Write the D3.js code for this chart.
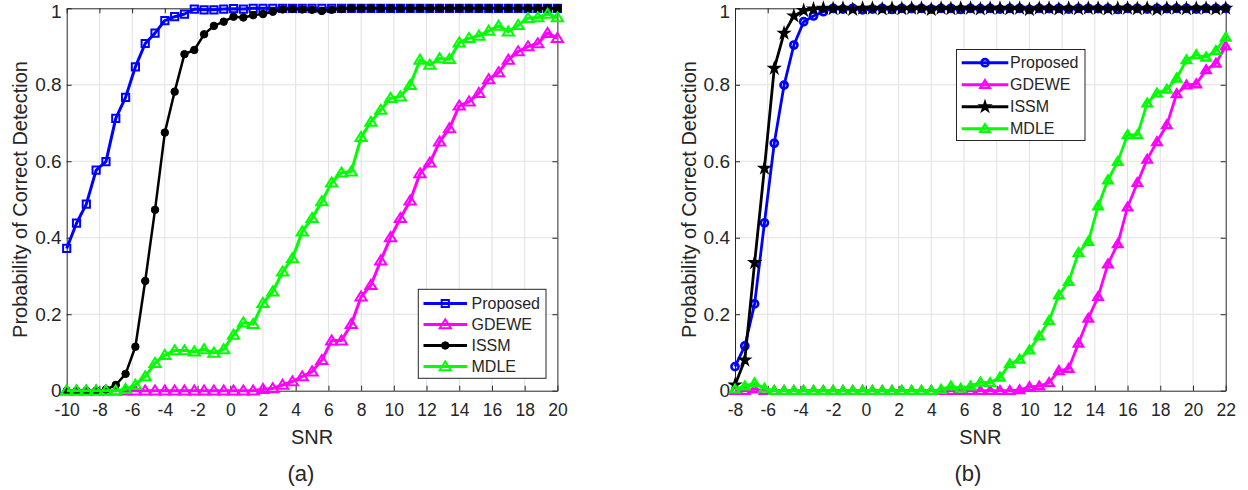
<!DOCTYPE html>
<html>
<head>
<meta charset="utf-8">
<script src="https://cdn.jsdelivr.net/npm/d3@7"></script>
<style>
  body { margin: 0; background: #fff; }
  svg { display: block; }
  text { font-family: "Liberation Sans", Arial, Helvetica, sans-serif; fill: #262626; }
</style>
</head>
<body>
<svg id="fig" width="1248" height="490"></svg>
<script>
// ---- panel (a): SNR grid and detection probabilities ----
const snrA = [-10, -9.4, -8.8, -8.2, -7.6, -7, -6.4, -5.8, -5.2, -4.6, -4, -3.4, -2.8, -2.2, -1.6, -1, -0.4,
  0.2, 0.8, 1.4, 2, 2.6, 3.2, 3.8, 4.4, 5, 5.6, 6.2, 6.8, 7.4, 8, 8.6, 9.2, 9.8, 10.4, 11, 11.6, 12.2,
  12.8, 13.4, 14, 14.6, 15.2, 15.8, 16.4, 17, 17.6, 18.2, 18.8, 19.4, 20];
const proposedA = [0.372, 0.438, 0.488, 0.577, 0.599, 0.712, 0.767, 0.847, 0.908, 0.935, 0.968, 0.978, 0.985,
  0.998, 0.996, 0.996, 0.998, 0.999, 0.998, 1, 1, 1, 1, 1, 1, 1, 1, 1, 1, 1, 1, 1, 1, 1, 1, 1, 1, 1, 1, 1,
  1, 1, 1, 1, 1, 1, 1, 1, 1, 1, 1];
const gdeweA = [0, 0, 0, 0, 0, 0, 0, 0, 0, 0, 0, 0, 0, 0, 0, 0, 0, 0, 0, 0, 0.004, 0.006, 0.015, 0.024, 0.037,
  0.050, 0.080, 0.131, 0.131, 0.174, 0.246, 0.276, 0.340, 0.401, 0.451, 0.497, 0.568, 0.596, 0.651, 0.686,
  0.745, 0.756, 0.778, 0.814, 0.832, 0.865, 0.887, 0.900, 0.908, 0.935, 0.922];
const issmA = [0, 0, 0, 0, 0.003, 0.015, 0.044, 0.115, 0.287, 0.473, 0.675, 0.782, 0.880, 0.891, 0.932, 0.954,
  0.965, 0.978, 0.976, 0.982, 0.985, 0.991, 0.997, 0.998, 0.997, 0.996, 0.993, 0.996, 0.998, 1, 1, 1, 1, 1,
  1, 1, 1, 1, 1, 1, 1, 1, 1, 1, 1, 1, 1, 1, 1, 1, 1];
const mdleA = [0, 0, 0, 0, 0, 0, 0.004, 0.015, 0.037, 0.072, 0.093, 0.105, 0.105, 0.102, 0.108, 0.099, 0.108,
  0.146, 0.178, 0.174, 0.229, 0.259, 0.311, 0.346, 0.416, 0.451, 0.495, 0.544, 0.570, 0.573, 0.663, 0.703,
  0.734, 0.765, 0.769, 0.799, 0.865, 0.852, 0.869, 0.867, 0.910, 0.922, 0.928, 0.941, 0.954, 0.939, 0.956,
  0.974, 0.976, 0.985, 0.976];
const xTicksA = [-10, -8, -6, -4, -2, 0, 2, 4, 6, 8, 10, 12, 14, 16, 18, 20];

// ---- panel (b) ----
const snrB = [-8, -7.4, -6.8, -6.2, -5.6, -5, -4.4, -3.8, -3.2, -2.6, -2, -1.4, -0.8, -0.2, 0.4, 1, 1.6, 2.2,
  2.8, 3.4, 4, 4.6, 5.2, 5.8, 6.4, 7, 7.6, 8.2, 8.8, 9.4, 10, 10.6, 11.2, 11.8, 12.4, 13, 13.6, 14.2, 14.8,
  15.4, 16, 16.6, 17.2, 17.8, 18.4, 19, 19.6, 20.2, 20.8, 21.4, 22];
const proposedB = [0.063, 0.117, 0.227, 0.439, 0.647, 0.799, 0.904, 0.965, 0.980, 0.991, 1, 0.998, 1, 0.996,
  0.998, 1, 0.997, 1, 0.999, 1, 0.998, 1, 1, 0.997, 1, 0.999, 1, 0.998, 1, 1, 0.997, 1, 0.999, 1, 0.998, 1,
  1, 0.999, 1, 0.997, 1, 1, 0.998, 1, 0.999, 1, 1, 0.998, 1, 1, 1];
const gdeweB = [0, 0, 0.004, 0, 0, 0, 0, 0, 0, 0, 0, 0, 0, 0, 0, 0, 0, 0, 0, 0, 0, 0, 0, 0, 0, 0, 0, 0, 0,
  0.002, 0.010, 0.012, 0.021, 0.052, 0.058, 0.124, 0.189, 0.246, 0.331, 0.384, 0.480, 0.544, 0.605, 0.651,
  0.695, 0.776, 0.799, 0.802, 0.839, 0.856, 0.901];
const issmB = [0.015, 0.080, 0.335, 0.582, 0.843, 0.935, 0.980, 0.994, 0.998, 1, 0.999, 1, 0.997, 1, 1, 0.998,
  1, 0.999, 1, 1, 0.997, 1, 0.999, 1, 1, 0.998, 1, 1, 0.999, 1, 0.997, 1, 1, 0.998, 1, 0.999, 1, 1, 0.998,
  1, 1, 0.999, 1, 0.997, 1, 1, 0.999, 1, 1, 0.998, 1];
const mdleB = [0.004, 0.012, 0.020, 0.006, 0, 0, 0, 0, 0, 0, 0, 0, 0, 0, 0, 0, 0, 0, 0, 0, 0, 0.003, 0.012,
  0.006, 0.012, 0.022, 0.021, 0.035, 0.070, 0.082, 0.106, 0.143, 0.183, 0.250, 0.285, 0.361, 0.390, 0.483,
  0.551, 0.599, 0.669, 0.669, 0.752, 0.778, 0.788, 0.817, 0.865, 0.878, 0.872, 0.889, 0.924];
const xTicksB = [-8, -6, -4, -2, 0, 2, 4, 6, 8, 10, 12, 14, 16, 18, 20, 22];

const yTicks = [0, 0.2, 0.4, 0.6, 0.8, 1];
const seriesNames = ["Proposed", "GDEWE", "ISSM", "MDLE"];
const seriesColors = ["#0000ff", "#ff00ff", "#000000", "#00ff00"];

// marker shapes (path strings centred on the data point)
const shapes = {
  square: "M-3.6,-3.6H3.6V3.6H-3.6Z",
  triangle: "M0,-5.2L5.6,3.8H-5.6Z",
  triangleSmall: "M0,-4.4L4.6,3.2H-4.6Z",
  circle: d3.symbol(d3.symbolCircle, 40)(),
  dot: d3.symbol(d3.symbolCircle, 44)(),
  star: d3.symbol(d3.symbolStar, 34)()
};

const panels = [
  {
    snr: snrA, values: [proposedA, gdeweA, issmA, mdleA], domain: [-10, 20], xTicks: xTicksA,
    left: 66.7, caption: "(a)", captionX: 301, yLabelX: 20,
    markers: [
      { d: shapes.square, fill: "none", sw: 2, lw: 3 },
      { d: shapes.triangle, fill: "none", sw: 2, lw: 3 },
      { d: shapes.dot, fill: "#000", sw: 1, lw: 2.5 },
      { d: shapes.triangle, fill: "none", sw: 2, lw: 3 }
    ],
    legend: { x: 418.3, y: 289.3, w: 127.7, h: 89, row0: 303.5, step: 21, lx0: 423.5, lx1: 467, tx: 471.5 }
  },
  {
    snr: snrB, values: [proposedB, gdeweB, issmB, mdleB], domain: [-8, 22], xTicks: xTicksB,
    left: 735, caption: "(b)", captionX: 968, yLabelX: 688.5,
    markers: [
      { d: shapes.circle, fill: "none", sw: 2.6, lw: 2.8 },
      { d: shapes.triangleSmall, fill: "none", sw: 2.4, lw: 2.8 },
      { d: shapes.star, fill: "#000", sw: 1.6, lw: 2.8 },
      { d: shapes.triangleSmall, fill: "none", sw: 2.4, lw: 2.8 }
    ],
    legend: { x: 956.5, y: 49.5, w: 128.5, h: 91, row0: 62.7, step: 22, lx0: 961.7, lx1: 1008.3, tx: 1010 }
  }
];

const svg = d3.select("#fig");
const plotW = 490.7, yBottom = 390.7, yTop = 8.3;

panels.forEach(p => {
  const x = d3.scaleLinear().domain(p.domain).range([p.left, p.left + plotW]);
  const y = d3.scaleLinear().domain([0, 1]).range([yBottom, yTop]);
  const g = svg.append("g");

  // grid
  const grid = g.append("g").attr("stroke", "#e1e1e1").attr("stroke-width", 1);
  grid.selectAll("line.gx").data(p.xTicks.slice(1, -1)).join("line")
    .attr("x1", d => x(d)).attr("x2", d => x(d)).attr("y1", yBottom).attr("y2", yTop);
  grid.selectAll("line.gy").data(yTicks.slice(1, -1)).join("line")
    .attr("y1", d => y(d)).attr("y2", d => y(d)).attr("x1", p.left).attr("x2", p.left + plotW);

  // axes with inward ticks on all four sides
  const fmt = d => String(d);
  const axB = g.append("g").attr("transform", `translate(0,${yBottom})`)
    .call(d3.axisBottom(x).tickValues(p.xTicks).tickFormat(fmt).tickSizeInner(-5).tickSizeOuter(0).tickPadding(13.3));
  const axL = g.append("g").attr("transform", `translate(${p.left},0)`)
    .call(d3.axisLeft(y).tickValues(yTicks).tickFormat(fmt).tickSizeInner(-5).tickSizeOuter(0).tickPadding(5));
  const axT = g.append("g").attr("transform", `translate(0,${yTop})`)
    .call(d3.axisTop(x).tickValues(p.xTicks).tickFormat("").tickSizeInner(-5).tickSizeOuter(0));
  const axR = g.append("g").attr("transform", `translate(${p.left + plotW},0)`)
    .call(d3.axisRight(y).tickValues(yTicks).tickFormat("").tickSizeInner(-5).tickSizeOuter(0));
  [axB, axL, axT, axR].forEach(a => {
    a.selectAll("path.domain").attr("stroke", "#262626").attr("stroke-width", 1);
    a.selectAll(".tick line").attr("stroke", "#262626").attr("stroke-width", 1);
  });
  axB.selectAll("text").attr("font-size", 17.5).attr("fill", "#262626");
  axL.selectAll("text").attr("font-size", 19).attr("fill", "#262626");
  // keep the topmost label inside the page
  axL.selectAll(".tick").filter(d => d === 1).select("text").attr("y", 3);
  axB.attr("font-family", null); axL.attr("font-family", null);

  // axis titles
  g.append("text").attr("x", x((p.domain[0] + p.domain[1]) / 2)).attr("y", 444)
    .attr("text-anchor", "middle").attr("font-size", 20).text("SNR");
  g.append("text").attr("transform", `translate(${p.yLabelX},${(yBottom + yTop) / 2}) rotate(-90)`)
    .attr("text-anchor", "middle").attr("dy", "0.35em").attr("font-size", 20)
    .text("Probability of Correct Detection");

  // caption
  g.append("text").attr("x", p.captionX).attr("y", 480.5).attr("text-anchor", "middle")
    .attr("font-size", 22).attr("fill", "#000").text(p.caption);

  // data series
  const line = d3.line().x(d => x(d[0])).y(d => y(d[1]));
  p.values.forEach((vals, i) => {
    const pts = p.snr.map((s, k) => [s, vals[k]]);
    const m = p.markers[i];
    const sg = g.append("g");
    sg.append("path").attr("d", line(pts)).attr("fill", "none")
      .attr("stroke", seriesColors[i]).attr("stroke-width", m.lw).attr("stroke-linejoin", "round");
    sg.selectAll("path.mk").data(pts).join("path").attr("class", "mk")
      .attr("transform", d => `translate(${x(d[0])},${y(d[1])})`)
      .attr("d", m.d).attr("fill", m.fill === "none" ? "none" : seriesColors[i])
      .attr("stroke", seriesColors[i]).attr("stroke-width", m.sw).attr("stroke-linejoin", "miter");
  });

  // legend
  const L = p.legend;
  const lg = g.append("g");
  lg.append("rect").attr("x", L.x).attr("y", L.y).attr("width", L.w).attr("height", L.h)
    .attr("fill", "#fff").attr("stroke", "#262626").attr("stroke-width", 1);
  seriesNames.forEach((name, i) => {
    const cy = L.row0 + i * L.step;
    const m = p.markers[i];
    lg.append("line").attr("x1", L.lx0).attr("x2", L.lx1).attr("y1", cy).attr("y2", cy)
      .attr("stroke", seriesColors[i]).attr("stroke-width", 3);
    lg.append("path").attr("transform", `translate(${(L.lx0 + L.lx1) / 2},${cy})`).attr("d", m.d)
      .attr("fill", m.fill === "none" ? "none" : seriesColors[i])
      .attr("stroke", seriesColors[i]).attr("stroke-width", m.sw);
    lg.append("text").attr("x", L.tx).attr("y", cy).attr("dy", "0.35em").attr("font-size", 16)
      .attr("fill", "#000").text(name);
  });
});
</script>
</body>
</html>
